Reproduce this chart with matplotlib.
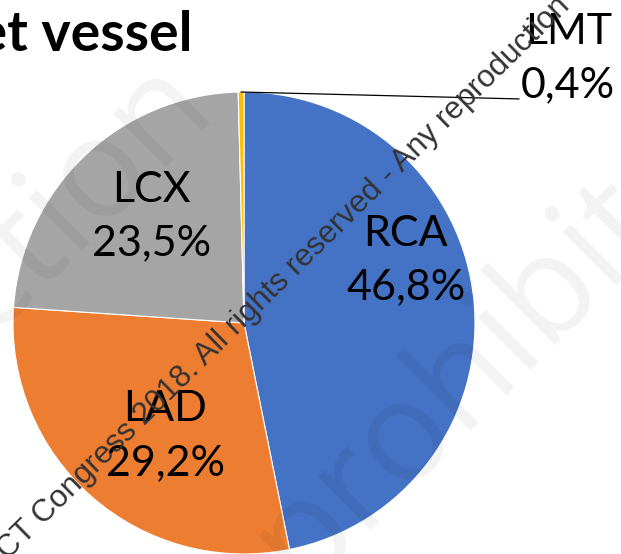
import numpy as np
import matplotlib
matplotlib.use("Agg")
import matplotlib.pyplot as plt

# data
vessels = ["RCA", "LAD", "LCX", "LMT"]
shares = [46.8, 29.2, 23.5, 0.4]
share_labels = ["46,8%", "29,2%", "23,5%", "0,4%"]
colors = ["#4472C4", "#ED7D31", "#A5A5A5", "#FFC000"]

title = "Target vessel"
watermark = "TCT Congress 2018. All rights reserved - Any reproduction"

plt.rcParams["font.family"] = ["Lato", "DejaVu Sans"]

W, H = 621, 554
fig = plt.figure(figsize=(W / 100, H / 100), dpi=100)

# pie centre (244, 323) px, radius 231 px
cx, cy, r = 244, 323, 231
ax = fig.add_axes([(cx - r) / W, (H - cy - r) / H, 2 * r / W, 2 * r / H])
wedges, _ = ax.pie(
    shares,
    colors=colors,
    startangle=90,
    counterclock=False,
    radius=1,
    wedgeprops=dict(edgecolor="white", linewidth=0.8),
)
ax.set_xlim(-1, 1)
ax.set_ylim(-1, 1)
ax.set_aspect("equal")
ax.axis("off")

# label placement (axes data units)
label_pos = {
    "RCA": (0.70, 0.27),
    "LAD": (-0.34, -0.49),
    "LCX": (-0.40, 0.46),
}
for name, pct in zip(vessels[:3], share_labels[:3]):
    x, y = label_pos[name]
    ax.text(x, y, f"{name}\n{pct}", ha="center", va="center",
            fontsize=31, linespacing=1.5, color="black")

# LMT label outside with leader line
w = wedges[3]
mid = np.deg2rad((w.theta1 + w.theta2) / 2)
px, py = np.cos(mid), np.sin(mid)
ax.plot([px, 1.19], [py, 0.97], color="black", lw=0.9, clip_on=False)
ax.text(1.20, 1.145, f"{vessels[3]}\n{share_labels[3]}", ha="left", va="center",
        fontsize=31, linespacing=1.5, multialignment="center", clip_on=False)

# title, cut off on the left as in the reference
fig.text(192 / W, 1 - 50 / H, title, ha="right", va="baseline",
         fontsize=40, fontweight="bold")

# faint background watermark
fig.text(140 / W, 1 - 30 / H, "Reproduction", rotation=45, rotation_mode="anchor",
         ha="right", va="top", fontsize=100, color="black", alpha=0.05,
         family=["Open Sans", "DejaVu Sans"])
fig.text(300 / W, 1 - 590 / H, "prohibited", rotation=45, rotation_mode="anchor",
         ha="left", va="baseline", fontsize=100, color="black", alpha=0.05,
         family=["Open Sans", "DejaVu Sans"])

# diagonal copyright line
fig.text(277 / W, 1 - 285 / H, watermark, rotation=44.5, rotation_mode="anchor",
         ha="center", va="center", fontsize=22.5, color="#333333",
         family=["Liberation Sans", "DejaVu Sans"])

fig.savefig("out.png", dpi=100)
